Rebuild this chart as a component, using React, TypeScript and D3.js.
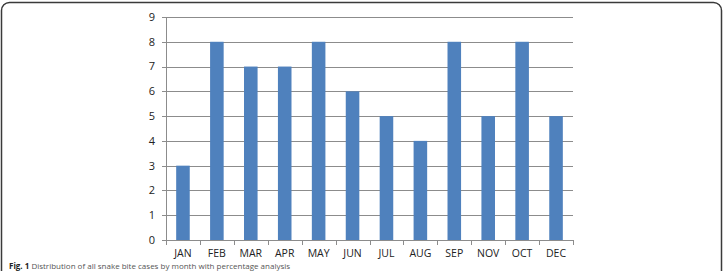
import { useEffect, useRef } from "react";
import * as d3 from "d3";

const months = ["JAN", "FEB", "MAR", "APR", "MAY", "JUN", "JUL", "AUG", "SEP", "NOV", "OCT", "DEC"];
const counts = [3, 8, 7, 7, 8, 6, 5, 4, 8, 5, 8, 5];
const yTicks = [0, 1, 2, 3, 4, 5, 6, 7, 8, 9];

const W = 723;
const H = 271;

const App = () => {
  const svgRef = useRef<SVGSVGElement | null>(null);

  useEffect(() => {
    if (!svgRef.current) return;
    const svg = d3.select(svgRef.current);
    svg.selectAll("*").remove();

    const margin = { top: 17, right: 150, bottom: 31, left: 166 };
    const font = "'Open Sans', sans-serif";

    const x = d3
      .scaleBand<string>()
      .domain(months)
      .range([margin.left, W - margin.right])
      .paddingInner(0.6)
      .paddingOuter(0.3);

    const y = d3
      .scaleLinear()
      .domain([0, 9])
      .range([H - margin.bottom, margin.top]);

    // frame
    svg
      .append("rect")
      .attr("x", 1.5)
      .attr("y", 2.5)
      .attr("width", W - 3)
      .attr("height", 320)
      .attr("rx", 8)
      .attr("fill", "#fff")
      .attr("stroke", "#3a3a3a")
      .attr("stroke-width", 1.5);

    // gridlines
    svg
      .append("g")
      .selectAll("line")
      .data(yTicks)
      .join("line")
      .attr("x1", margin.left - 4)
      .attr("x2", W - margin.right)
      .attr("y1", (d) => Math.round(y(d)) + 0.5)
      .attr("y2", (d) => Math.round(y(d)) + 0.5)
      .attr("stroke", "#8c8c8c")
      .attr("stroke-width", 1);

    svg
      .append("g")
      .selectAll("text")
      .data(yTicks)
      .join("text")
      .attr("x", margin.left - 11)
      .attr("y", (d) => y(d))
      .attr("dy", "0.35em")
      .attr("text-anchor", "end")
      .attr("font-family", font)
      .attr("font-size", 11)
      .attr("fill", "#222")
      .text((d) => d);

    // bars
    svg
      .append("g")
      .selectAll("rect")
      .data(months)
      .join("rect")
      .attr("x", (d) => x(d)!)
      .attr("y", (d, i) => y(counts[i]))
      .attr("width", x.bandwidth())
      .attr("height", (d, i) => y(0) - y(counts[i]))
      .attr("fill", "#4f81bd");

    // axes lines
    const step = x.step();
    const x0 = margin.left;
    svg
      .append("line")
      .attr("x1", x0 + 0.5)
      .attr("x2", x0 + 0.5)
      .attr("y1", y(9))
      .attr("y2", y(0))
      .attr("stroke", "#8c8c8c");
    svg
      .append("line")
      .attr("x1", x0)
      .attr("x2", W - margin.right)
      .attr("y1", Math.round(y(0)) + 0.5)
      .attr("y2", Math.round(y(0)) + 0.5)
      .attr("stroke", "#8c8c8c");
    svg
      .append("g")
      .selectAll("line")
      .data(d3.range(months.length + 1))
      .join("line")
      .attr("x1", (i) => Math.round(x0 + i * step) + 0.5)
      .attr("x2", (i) => Math.round(x0 + i * step) + 0.5)
      .attr("y1", y(0))
      .attr("y2", y(0) + 5)
      .attr("stroke", "#8c8c8c");

    svg
      .append("g")
      .selectAll("text")
      .data(months)
      .join("text")
      .attr("x", (d) => x(d)! + x.bandwidth() / 2)
      .attr("y", y(0) + 17)
      .attr("text-anchor", "middle")
      .attr("font-family", font)
      .attr("font-size", 10.5)
      .attr("fill", "#222")
      .text((d) => d);

    // caption at the bottom edge
    const cap = svg
      .append("text")
      .attr("x", 9)
      .attr("y", 269)
      .attr("font-family", font)
      .attr("font-size", 8)
      .attr("fill", "#555");
    cap.append("tspan").attr("font-weight", "bold").attr("fill", "#222").text("Fig. 1 ");
    cap.append("tspan").text("Distribution of all snake bite cases by month with percentage analysis");
  }, []);

  return (
    <svg
      ref={svgRef}
      width={W}
      height={H}
      style={{ position: "absolute", left: 0, top: 0, display: "block", background: "#fff" }}
    />
  );
};

export default App;
